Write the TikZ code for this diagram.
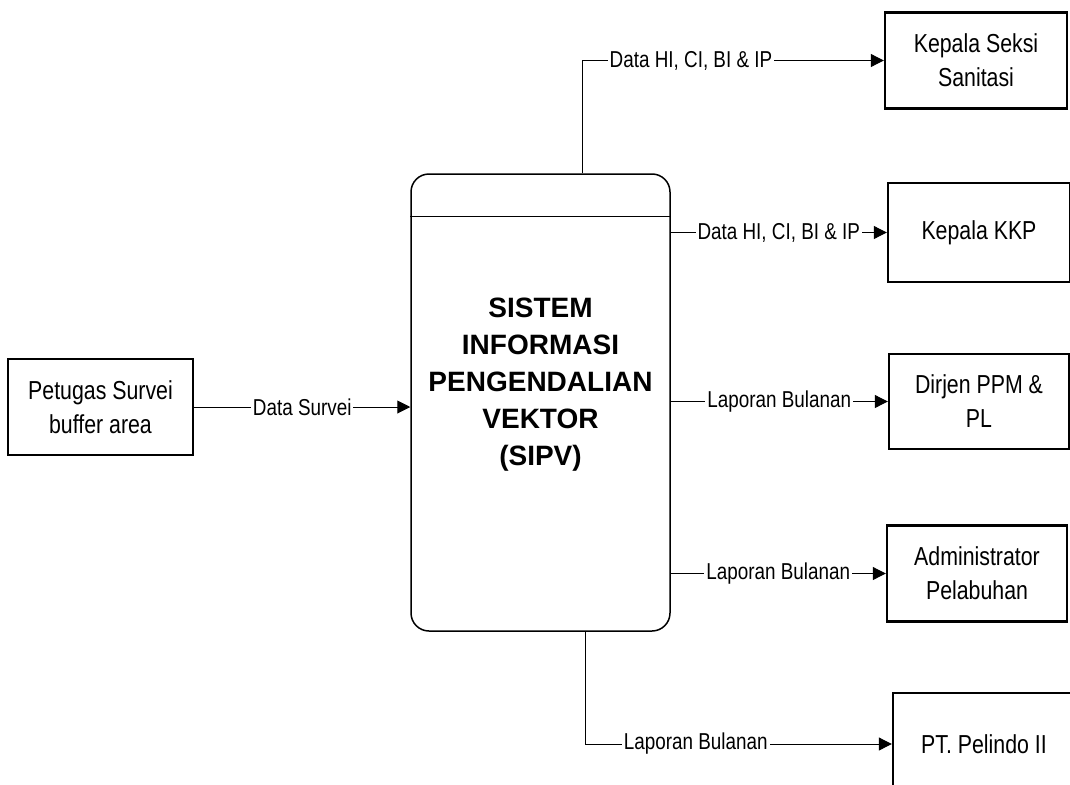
\documentclass[tikz,border=0pt]{standalone}
\usepackage{fontspec}
\setmainfont{Liberation Sans}
\newfontfamily\narrowfont[FakeStretch=0.82]{Liberation Sans}
\usetikzlibrary{arrows.meta}
\usetikzlibrary{calc}

\tikzset{
  entity/.style={draw,line width=2.4pt,minimum width=182pt,minimum height=96pt,align=center,inner sep=0pt,font=\narrowfont\fontsize{26}{34}\selectfont},
  flow/.style={line width=1pt,-{Triangle[length=13pt,width=13pt]}},
  flowlabel/.style={fill=white,inner xsep=2pt,inner ysep=1pt,font=\narrowfont\fontsize{23}{26}\selectfont}
}

\begin{document}
\begin{tikzpicture}[x=1pt,y=-1pt]
  \useasboundingbox (0,0) rectangle (1070,784);
  \clip (0,0) rectangle (1070,784);
  \node[entity,minimum width=185pt] (petugas) at (100.5,407) {Petugas Survei\\buffer area};
  \node[draw,line width=1.5pt,rounded corners=18pt,minimum width=259pt,minimum height=457pt] (sipv) at (540.5,402.5) {};
  \draw[line width=1.5pt] ($(sipv.north west)+(0,43)$) -- ($(sipv.north east)+(0,43)$);
  \node[align=center,font=\bfseries\fontsize{28}{37}\selectfont] (sipvtitle) at ($(sipv.center)+(0,-18)$) {SISTEM\\INFORMASI\\PENGENDALIAN\\VEKTOR\\(SIPV)};
  \node[entity] (sanitasi) at (976,60.5) {Kepala Seksi\\Sanitasi};
  \node[entity,minimum height=99pt] (kkp) at (979,232.5) {Kepala KKP};
  \node[entity,minimum width=180pt,minimum height=95pt] (dirjen) at (979,401.5) {Dirjen PPM \&\\PL};
  \node[entity,minimum width=180pt] (adpel) at (977,573.5) {Administrator\\Pelabuhan};
  \node[entity,minimum height=102pt] (pelindo) at (984,744) {PT. Pelindo II};
  \draw[flow] (petugas.east) -- node[flowlabel] {Data Survei} (petugas.east -| sipv.west);
  \draw[flow] ($(sipv.north)+(42,0)$) |- node[flowlabel,pos=0.68] {Data HI, CI, BI \& IP} (sanitasi.west);
  \foreach \dest/\txt in {kkp/{Data HI, CI, BI \& IP}, dirjen/Laporan Bulanan, adpel/Laporan Bulanan}
    \draw[flow] (\dest.west -| sipv.east) -- node[flowlabel] {\txt} (\dest.west);
  \draw[flow] ($(sipv.south)+(45,0)$) |- node[flowlabel,pos=0.68] {Laporan Bulanan} (pelindo.west);
\end{tikzpicture}
\end{document}
